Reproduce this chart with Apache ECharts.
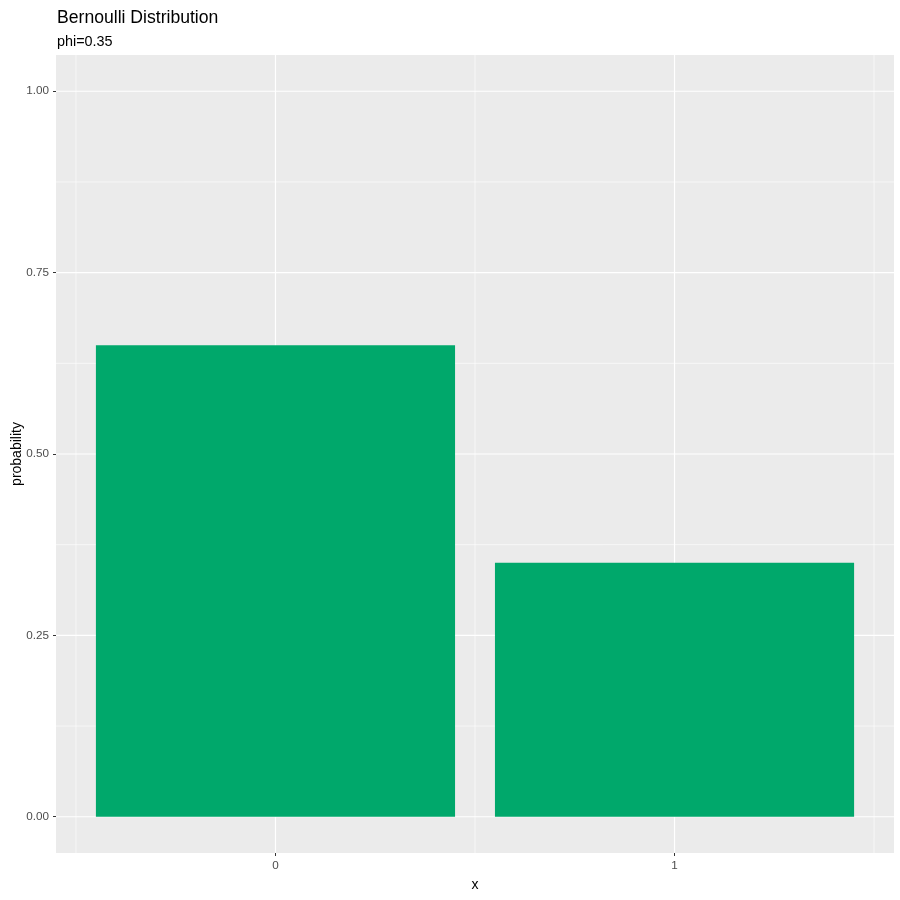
<!DOCTYPE html>
<html>
<head>
<meta charset="utf-8">
<script src="https://cdn.jsdelivr.net/npm/echarts@6/dist/echarts.min.js"></script>
<style>
  html, body { margin: 0; padding: 0; background: #fff; }
  #main { width: 900px; height: 900px; }
</style>
</head>
<body>
<div id="main"></div>
<script>
// data
var outcomes = [0, 1];
var probability = [0.65, 0.35];
var xTicks = [0, 1];
var yTicks = [0, 0.25, 0.5, 0.75, 1];

var xMajor = [0, 1];
var xMinor = [-0.5, 0.5, 1.5];
var yMajor = yTicks;
var yMinor = [0.125, 0.375, 0.625, 0.875];

var myChart = echarts.init(document.getElementById('main'));

var barData = [];
for (let i = 0; i < outcomes.length; i++) {
    barData.push([outcomes[i], probability[i]]);
}

// grid lines drawn through the axes' own scales
function gridItem(params, api) {
    var v = api.value(0), dir = api.value(1), w = api.value(2);
    var p1, p2;
    if (dir === 0) {
        p1 = api.coord([v, -0.05]);
        p2 = api.coord([v, 1.05]);
    } else {
        p1 = api.coord([-0.55, v]);
        p2 = api.coord([1.55, v]);
    }
    return {
        type: 'line',
        shape: { x1: p1[0], y1: p1[1], x2: p2[0], y2: p2[1] },
        style: { stroke: '#ffffff', lineWidth: w }
    };
}
var gridData = [];
xMinor.forEach(function (v) { gridData.push([v, 0, 0.6]); });
yMinor.forEach(function (v) { gridData.push([v, 1, 0.6]); });
xMajor.forEach(function (v) { gridData.push([v, 0, 1.2]); });
yMajor.forEach(function (v) { gridData.push([v, 1, 1.2]); });

var option = {
    animation: false,
    title: [
        {
            text: 'Bernoulli Distribution',
            left: 57, top: 9, padding: 0,
            textStyle: { fontFamily: 'Arial, Liberation Sans', fontSize: 17.6, fontWeight: 'normal', color: '#000' }
        },
        {
            text: 'phi=0.35',
            left: 57, top: 35, padding: 0,
            textStyle: { fontFamily: 'Arial, Liberation Sans', fontSize: 14.4, fontWeight: 'normal', color: '#000' }
        }
    ],
    grid: {
        left: 56, right: 6, top: 55, bottom: 47,
        outerBoundsMode: 'none',
        containLabel: false,
        show: true, backgroundColor: '#EBEBEB', borderWidth: 0
    },
    xAxis: {
        type: 'value',
        min: -0.55, max: 1.55,
        name: 'x', nameLocation: 'middle', nameGap: 25,
        nameMoveOverlap: false,
        nameTextStyle: { fontFamily: 'Arial, Liberation Sans', fontSize: 14, color: '#000' },
        axisLine: { show: false, onZero: false },
        axisTick: { show: true, customValues: xTicks, length: 3, lineStyle: { color: '#333' } },
        axisLabel: { customValues: xTicks, color: '#4D4D4D', fontSize: 11.7, fontFamily: 'Arial, Liberation Sans', margin: 7 },
        splitLine: { show: false }
    },
    yAxis: {
        type: 'value',
        min: -0.05, max: 1.05,
        name: 'probability', nameLocation: 'middle', nameGap: 32, nameRotate: 90,
        nameMoveOverlap: false,
        nameTextStyle: { fontFamily: 'Arial, Liberation Sans', fontSize: 14, color: '#000' },
        axisLine: { show: false, onZero: false },
        axisTick: { show: true, customValues: yTicks, length: 3, lineStyle: { color: '#333' } },
        axisLabel: {
            customValues: yTicks, color: '#4D4D4D', fontSize: 11.7, fontFamily: 'Arial, Liberation Sans', margin: 7,
            formatter: function (v) { return v.toFixed(2); }
        },
        splitLine: { show: false }
    },
    series: [
        {
            type: 'custom',
            silent: true,
            renderItem: gridItem,
            data: gridData,
            z: 1
        },
        {
            type: 'custom',
            z: 2,
            renderItem: function (params, api) {
                var x = api.value(0), y = api.value(1);
                var tl = api.coord([x - 0.45, y]);
                var br = api.coord([x + 0.45, 0]);
                return {
                    type: 'rect',
                    shape: { x: tl[0], y: tl[1], width: br[0] - tl[0], height: br[1] - tl[1] },
                    style: { fill: '#00A86B' }
                };
            },
            data: barData
        }
    ]
};

myChart.setOption(option);
</script>
</body>
</html>
